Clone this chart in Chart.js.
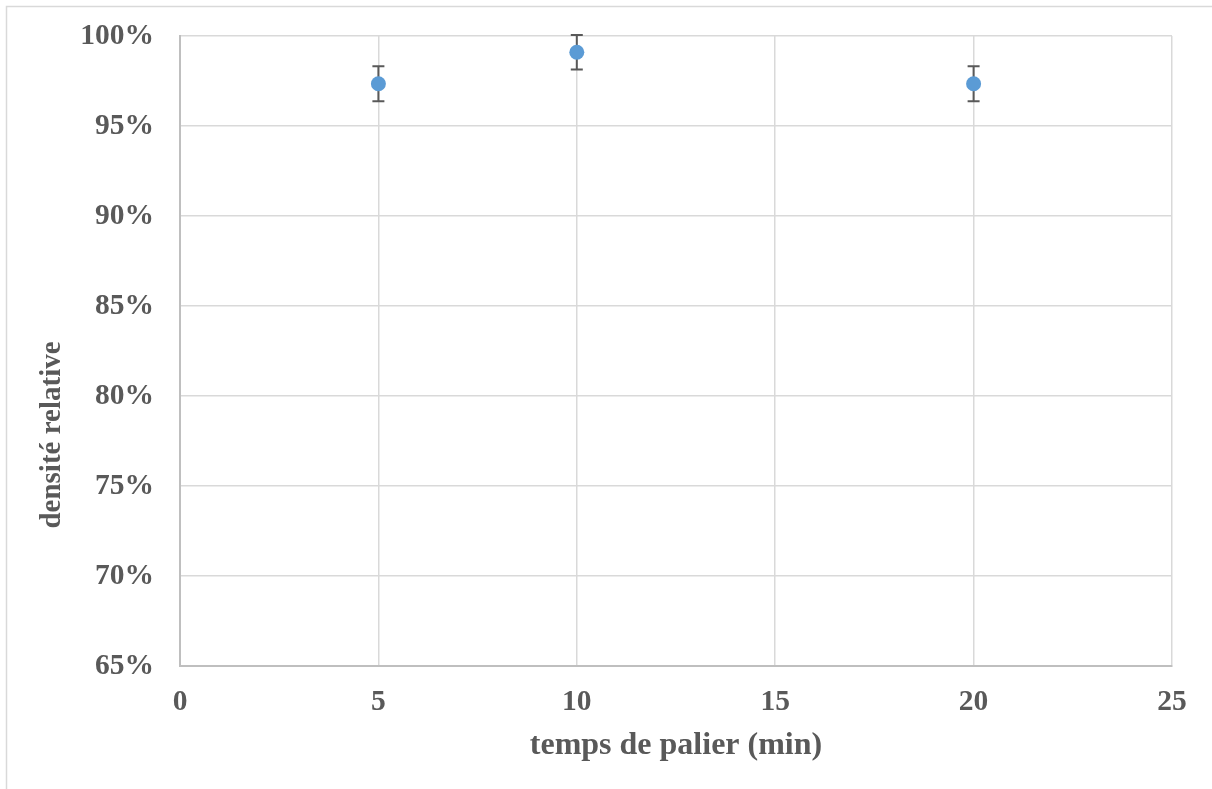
<!DOCTYPE html>
<html>
<head>
<meta charset="utf-8">
<script src="https://cdn.jsdelivr.net/npm/chart.js@4.4.1/dist/chart.umd.min.js"></script>
<style>
  html, body { margin: 0; padding: 0; background: #ffffff; }
  #wrap { position: relative; width: 1212px; height: 789px; }
</style>
</head>
<body>
<div id="wrap"><canvas id="chart" width="1212" height="789"></canvas></div>
<script>
// Temps de palier (min) et densité relative mesurée (%)
const tempsPalier = [5, 10, 20];
const densiteRelative = [97.35, 99.1, 97.35];
const ecartType = [0.97, 0.96, 0.97];

const xTicks = [0, 5, 10, 15, 20, 25];
const yTicks = [65, 70, 75, 80, 85, 90, 95, 100];

const axisTitleX = 'temps de palier (min)';
const axisTitleY = 'densité relative';

const textColor = '#595959';
const gridColor = '#d9d9d9';
const serif = '"Liberation Serif", "Times New Roman", serif';

// Cadre gris clair autour du graphique
const framePlugin = {
  id: 'frame',
  beforeDraw(chart) {
    const ctx = chart.ctx;
    ctx.save();
    ctx.strokeStyle = gridColor;
    ctx.lineWidth = 1.5;
    ctx.beginPath();
    ctx.moveTo(6.5, chart.height);
    ctx.lineTo(6.5, 6.5);
    ctx.lineTo(chart.width, 6.5);
    ctx.stroke();
    ctx.restore();
  }
};

// Titre vertical de l'axe des ordonnées, placé un peu sous le milieu du tracé
const yTitlePlugin = {
  id: 'yTitle',
  afterDraw(chart) {
    const ctx = chart.ctx;
    ctx.save();
    ctx.translate(60, 435);
    ctx.rotate(-Math.PI / 2);
    ctx.fillStyle = textColor;
    ctx.font = 'bold 29px ' + serif;
    ctx.textAlign = 'center';
    ctx.textBaseline = 'alphabetic';
    ctx.fillText(axisTitleY, 0, 0);
    ctx.restore();
  }
};

// Barres d'erreur verticales, tracées sous les marqueurs
const errorBarPlugin = {
  id: 'errorBars',
  beforeDatasetsDraw(chart) {
    const { ctx, scales: { x, y } } = chart;
    ctx.save();
    ctx.strokeStyle = '#595959';
    ctx.lineWidth = 2;
    const cap = 6;
    tempsPalier.forEach((t, i) => {
      const px = x.getPixelForValue(t);
      const top = y.getPixelForValue(densiteRelative[i] + ecartType[i]);
      const bot = y.getPixelForValue(densiteRelative[i] - ecartType[i]);
      ctx.beginPath();
      ctx.moveTo(px, top); ctx.lineTo(px, bot);
      ctx.moveTo(px - cap, top); ctx.lineTo(px + cap, top);
      ctx.moveTo(px - cap, bot); ctx.lineTo(px + cap, bot);
      ctx.stroke();
    });
    ctx.restore();
  }
};

new Chart(document.getElementById('chart'), {
  type: 'scatter',
  data: {
    datasets: [{
      data: tempsPalier.map((t, i) => ({ x: t, y: densiteRelative[i] })),
      backgroundColor: '#5b9bd5',
      borderWidth: 0,
      pointRadius: 7.5,
      pointHoverRadius: 7.5
    }]
  },
  options: {
    responsive: false,
    animation: false,
    layout: { padding: { left: 0, top: 36, right: 40, bottom: 0 } },
    plugins: { legend: { display: false }, tooltip: { enabled: false } },
    scales: {
      x: {
        type: 'linear',
        min: 0, max: 25,
        afterBuildTicks(axis) { axis.ticks = xTicks.map(v => ({ value: v })); },
        afterFit(axis) { axis.height = 123; axis.paddingLeft = 0; axis.paddingRight = 0; },
        grid: { color: gridColor, lineWidth: 1.5, drawTicks: false },
        border: { color: '#bfbfbf', width: 2 },
        ticks: {
          color: textColor, padding: 19,
          font: { family: serif, size: 29.5, weight: 'bold' }
        },
        title: {
          display: true, text: axisTitleX, color: textColor,
          font: { family: serif, size: 32, weight: 'bold' },
          padding: { top: 0, bottom: 24 }
        }
      },
      y: {
        min: 65, max: 100,
        afterBuildTicks(axis) { axis.ticks = yTicks.map(v => ({ value: v })); },
        afterFit(axis) { axis.width = 180; axis.paddingTop = 0; axis.paddingBottom = 0; },
        grid: { color: gridColor, lineWidth: 1.5, drawTicks: false },
        border: { color: '#bfbfbf', width: 2 },
        ticks: {
          color: textColor, padding: 26,
          font: { family: serif, size: 29.5, weight: 'bold' },
          callback: v => v + '%'
        },
        title: { display: false }
      }
    }
  },
  plugins: [framePlugin, errorBarPlugin, yTitlePlugin]
});
</script>
</body>
</html>
